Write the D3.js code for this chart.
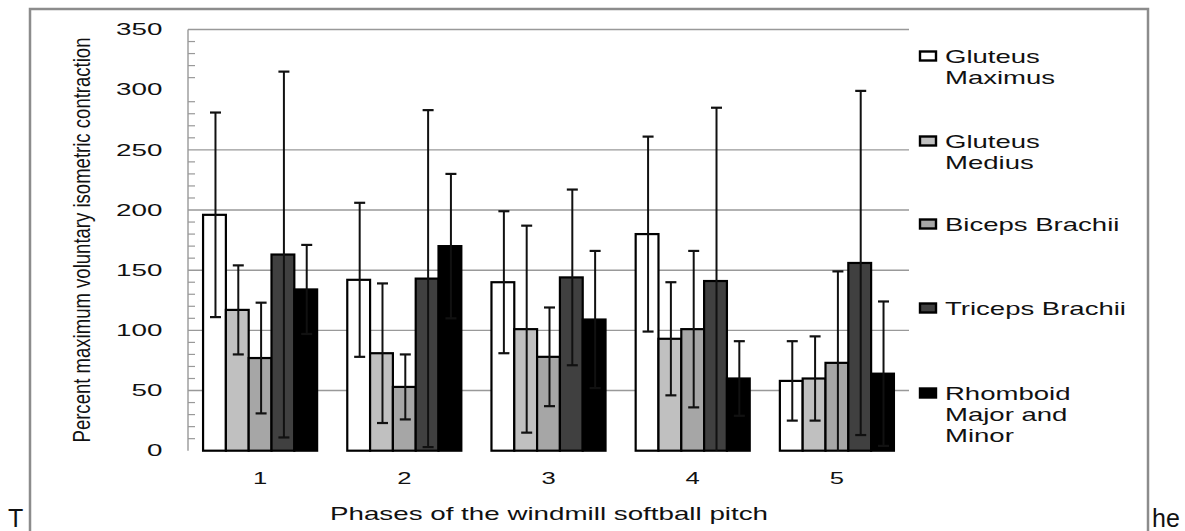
<!DOCTYPE html>
<html>
<head>
<meta charset="utf-8">
<script src="https://cdn.jsdelivr.net/npm/d3@7"></script>
<style>
  body { margin: 0; background: #fff; }
  svg text { font-family: "Liberation Sans", Arial, sans-serif; fill: #111; }
</style>
</head>
<body>
<div id="chart"></div>
<script>
// data
var phases = ['1', '2', '3', '4', '5'];
var muscles = ['Gluteus Maximus', 'Gluteus Medius', 'Biceps Brachii', 'Triceps Brachii', 'Rhomboid Major and Minor'];
var legendLines = [['Gluteus', 'Maximus'], ['Gluteus', 'Medius'], ['Biceps Brachii'], ['Triceps Brachii'], ['Rhomboid', 'Major and', 'Minor']];
var meanGMax = [196, 142, 140, 180, 58];
var meanGMed = [117, 81, 101, 93, 60];
var meanBic  = [77, 53, 78, 101, 73];
var meanTri  = [163, 143, 144, 141, 156];
var meanRho  = [134, 170, 109, 60, 64];
var sdGMax = [85, 64, 59, 81, 33];
var sdGMed = [37, 58, 86, 47, 35];
var sdBic  = [46, 27, 41, 65, 76];
var sdTri  = [152, 140, 73, 144, 143];
var sdRho  = [37, 60, 57, 31, 60];
var yTicks = [0, 50, 100, 150, 200, 250, 300, 350];

var means = [meanGMax, meanGMed, meanBic, meanTri, meanRho];
var sds = [sdGMax, sdGMed, sdBic, sdTri, sdRho];
var fills = ['#ffffff', '#c0c0c0', '#a6a6a6', '#404040', '#000000'];

var svg = d3.select('#chart').append('svg').attr('width', 1185).attr('height', 531);

// outer frame (runs off the bottom of the picture)
svg.append('rect').attr('x', 30).attr('y', 9).attr('width', 1118).attr('height', 560)
  .attr('fill', 'none').attr('stroke', '#8c8c8c').attr('stroke-width', 2.5);

var x0 = d3.scaleBand().domain(phases).range([188, 909]).paddingInner(0.209).paddingOuter(0.1045);
var x1 = d3.scaleBand().domain(d3.range(muscles.length)).range([0, x0.bandwidth()]);
var y = d3.scaleLinear().domain([0, 350]).range([450.7, 29.5]);

// gridlines (the reference shows no line at 300)
svg.append('g').selectAll('line').data(yTicks.filter(function (v) { return v > 0 && v !== 300; }))
  .join('line')
  .attr('x1', 188).attr('x2', 909)
  .attr('y1', function (d) { return y(d); }).attr('y2', function (d) { return y(d); })
  .attr('stroke', '#999').attr('stroke-width', 1.4);

// left axis line + minor ticks
svg.append('line').attr('x1', 188).attr('x2', 188).attr('y1', y(350)).attr('y2', y(0))
  .attr('stroke', '#999').attr('stroke-width', 1.4);
svg.append('g').selectAll('line').data(d3.range(10, 350, 10).filter(function (v) { return v % 50 !== 0; }))
  .join('line')
  .attr('x1', 188).attr('x2', 195)
  .attr('y1', function (d) { return y(d); }).attr('y2', function (d) { return y(d); })
  .attr('stroke', '#999').attr('stroke-width', 1.2);

// y tick labels
svg.append('g').selectAll('g').data(yTicks).join('g')
  .attr('transform', function (d) { return 'translate(162.5,' + y(d) + ') scale(1.76,1)'; })
  .append('text').attr('text-anchor', 'end').attr('dy', '0.36em')
  .style('font-size', '15.8px').text(function (d) { return d; });

// bars
var groups = svg.append('g').selectAll('g').data(phases).join('g')
  .attr('transform', function (d) { return 'translate(' + x0(d) + ',0)'; });

groups.each(function (p, pi) {
  var g = d3.select(this);
  var rows = muscles.map(function (m, mi) { return { mi: mi, v: means[mi][pi], sd: sds[mi][pi] }; });
  g.selectAll('rect').data(rows).join('rect')
    .attr('x', function (d) { return x1(d.mi); })
    .attr('width', x1.bandwidth())
    .attr('y', function (d) { return y(d.v); })
    .attr('height', function (d) { return y(0) - y(d.v); })
    .attr('fill', function (d) { return fills[d.mi]; })
    .attr('stroke', '#000').attr('stroke-width', 2.2);

  // error bars
  rows.forEach(function (d) {
    var cx = x1(d.mi) + x1.bandwidth() / 2 + 1;
    var hi = d.v + d.sd, lo = Math.max(0, d.v - d.sd);
    g.append('line').attr('x1', cx).attr('x2', cx).attr('y1', y(hi)).attr('y2', y(lo))
      .attr('stroke', '#111').attr('stroke-width', 2);
    g.append('line').attr('x1', cx - 5.5).attr('x2', cx + 5.5).attr('y1', y(hi)).attr('y2', y(hi))
      .attr('stroke', '#111').attr('stroke-width', 2.2);
    if (d.v - d.sd >= 0) {
      g.append('line').attr('x1', cx - 5.5).attr('x2', cx + 5.5).attr('y1', y(lo)).attr('y2', y(lo))
        .attr('stroke', '#111').attr('stroke-width', 2.2);
    }
  });
});

// category labels
svg.append('g').selectAll('g').data(phases).join('g')
  .attr('transform', function (d) { return 'translate(' + (x0(d) + x0.bandwidth() / 2) + ',478) scale(1.6,1)'; })
  .append('text').attr('text-anchor', 'middle').attr('dy', '0.36em')
  .style('font-size', '16px').text(function (d) { return d; });

// axis titles
svg.append('text').attr('x', 549).attr('y', 520).attr('text-anchor', 'middle')
  .attr('textLength', 438).attr('lengthAdjust', 'spacingAndGlyphs')
  .style('font-size', '18.6px').text('Phases of the windmill softball pitch');

svg.append('g').attr('transform', 'translate(89.5,240) scale(1.45,1) rotate(-90)')
  .append('text').attr('text-anchor', 'middle')
  .attr('textLength', 405).attr('lengthAdjust', 'spacingAndGlyphs')
  .style('font-size', '16px').text('Percent maximum voluntary isometric contraction');

// legend
var legendY = [56, 141, 224, 308, 393];
var leg = svg.append('g').selectAll('g').data(muscles).join('g')
  .attr('transform', function (d, i) { return 'translate(0,' + legendY[i] + ')'; });
leg.append('rect').attr('x', 920).attr('y', -4.5).attr('width', 16).attr('height', 9)
  .attr('fill', function (d, i) { return fills[i]; })
  .attr('stroke', '#000').attr('stroke-width', 2.4);
leg.each(function (d, i) {
  d3.select(this).selectAll('g.ln').data(legendLines[i]).join('g').attr('class', 'ln')
    .attr('transform', function (t, k) { return 'translate(945,' + (k * 21) + ') scale(1.48,1)'; })
    .append('text').attr('dy', '0.36em').style('font-size', '18.6px').text(function (t) { return t; });
});

// stray text from the surrounding page
svg.append('text').attr('x', 8).attr('y', 527).style('font-size', '25px').text('T');
svg.append('text').attr('x', 1152).attr('y', 527).style('font-size', '25px').text('he');
</script>
</body>
</html>
